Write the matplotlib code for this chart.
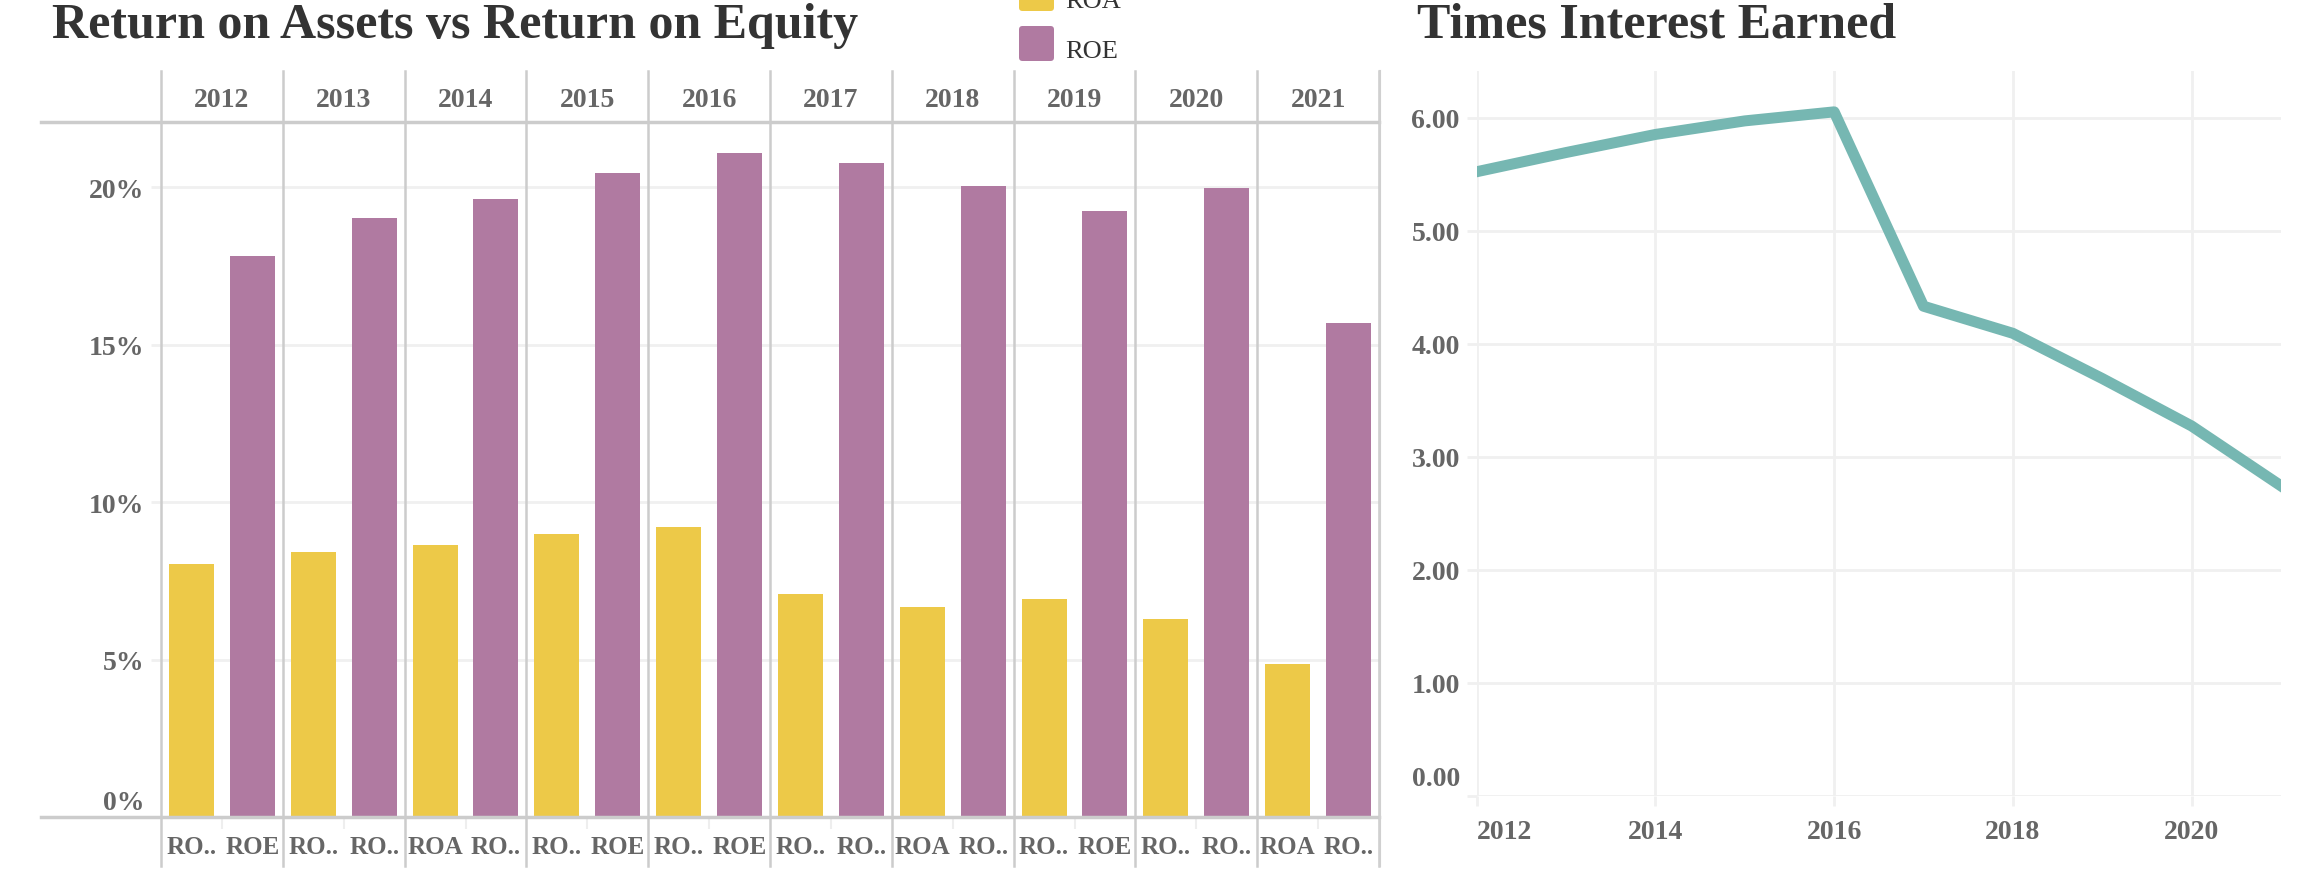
import matplotlib
matplotlib.use('Agg')
import matplotlib.pyplot as plt
from matplotlib.patches import FancyBboxPatch
from matplotlib.lines import Line2D
from matplotlib.transforms import ScaledTranslation, blended_transform_factory

# data
years = [2012, 2013, 2014, 2015, 2016, 2017, 2018, 2019, 2020, 2021]
roa = [8.03, 8.42, 8.66, 8.98, 9.21, 7.08, 6.68, 6.93, 6.29, 4.86]
roe = [17.82, 19.01, 19.64, 20.45, 21.09, 20.77, 20.05, 19.26, 19.97, 15.68]
roa_labels = ["RO..", "RO..", "ROA", "RO..", "RO..", "RO..", "ROA", "RO..", "RO..", "ROA"]
roe_labels = ["ROE", "RO..", "RO..", "ROE", "ROE", "RO..", "RO..", "ROE", "RO..", "RO.."]
tie = [5.52, 5.69, 5.85, 5.97, 6.05, 4.33, 4.09, 3.69, 3.27, 2.74]
pct_ticks = [0, 5, 10, 15, 20]
tie_ticks = [0, 1, 2, 3, 4, 5, 6]
year_ticks = [2012, 2014, 2016, 2018, 2020]
legend_names = ['ROA', 'ROE']

W, H = 2322, 895
YEL, PUR, TEAL = '#EDC948', '#B07AA1', '#76B7B2'
LINE, GRID, TXT = '#cccccc', '#f0f0f0', '#666666'
plt.rcParams['font.family'] = 'Liberation Serif'

fig = plt.figure(figsize=(W / 100, H / 100), dpi=100)

def px(v):  # pixels -> points
    return v * 0.72

# ---------------- left: ROA vs ROE ----------------
top, bot = 123, 818.3
ax1 = fig.add_axes([161 / W, 1 - bot / H, 1218 / W, (bot - top) / H])
n = len(years)
xa = [i + 0.25 for i in range(n)]
xe = [i + 0.75 for i in range(n)]
ax1.bar(xa, roa, width=0.37, color=YEL, zorder=3)
ax1.bar(xe, roe, width=0.37, color=PUR, zorder=3)
ax1.set_xlim(0, n)
ax1.set_ylim(0, (bot - top) / 31.5)
for s in ax1.spines.values():
    s.set_visible(False)

ax1.set_yticks(pct_ticks, [f'{t}%' for t in pct_ticks])
ax1.yaxis.grid(True, color=GRID, lw=2, zorder=0)
ax1.tick_params(axis='y', length=px(10), width=2, color=GRID, pad=5,
                labelsize=20, labelcolor=TXT)
for lab in ax1.get_yticklabels():
    lab.set_fontweight('bold')
ylabs = ax1.get_yticklabels()
ylabs[0].set_transform(ylabs[0].get_transform() + ScaledTranslation(0, 18 / 100, fig.dpi_scale_trans))

ax1.set_xticks(xa + xe, roa_labels + roe_labels)
ax1.tick_params(axis='x', length=0, pad=12.5, labelsize=18, labelcolor=TXT)
for lab in ax1.get_xticklabels():
    lab.set_fontweight('bold')
ax1.set_xticks([i + 0.5 for i in range(n)], minor=True)
ax1.tick_params(axis='x', which='minor', length=px(12), width=1.5, color='#eeeeee')

h = bot - top
for i in range(n + 1):
    ax1.axvline(i, ymin=-(867 - bot) / h, ymax=(bot - 72) / h, color=LINE, lw=1.8,
                clip_on=False, zorder=4)
ax1.plot([-(161 - 41) / 1218, 1], [0, 0], transform=ax1.transAxes, color=LINE, lw=2.5,
         clip_on=False, zorder=4)
ax1.plot([-(161 - 41) / 1218, 1], [1, 1], transform=ax1.transAxes, color=LINE, lw=2.5,
         clip_on=False, zorder=4)
tr = blended_transform_factory(ax1.transData, ax1.transAxes)
for i, y in enumerate(years):
    ax1.text(i + 0.5, (bot - 107) / h, str(y), transform=tr, ha='center', va='baseline',
             fontsize=20, fontweight='bold', color=TXT)

fig.text(52 / W, 1 - 38 / H, 'Return on Assets vs Return on Equity', fontsize=36,
         fontweight='bold', color='#333333', va='baseline')

# legend (top entry runs off the top edge, as in the original)
inch = fig.dpi_scale_trans
for k, (name, col) in enumerate(zip(legend_names, [YEL, PUR])):
    sq_top = 27 - 50 * (1 - k)
    fig.add_artist(FancyBboxPatch((1019 / 100, (H - sq_top - 35) / 100), 0.35, 0.35,
                                  boxstyle='round,pad=0,rounding_size=0.035',
                                  facecolor=col, edgecolor='none', transform=inch))
    fig.text(1065 / W, 1 - (sq_top + 31) / H, name, fontsize=19, color='#333333',
             va='baseline')

# ---------------- right: Times Interest Earned ----------------
t2, b2 = 72, 796.5
ax2 = fig.add_axes([1476.7 / W, 1 - b2 / H, (2281 - 1476.7) / W, (b2 - t2) / H])
ax2.plot(years, tie, color=TEAL, lw=px(11), solid_joinstyle='round', zorder=3)
ax2.set_xlim(2012, 2021)
ax2.set_ylim(0, (b2 - t2) / 113)
for s in ax2.spines.values():
    s.set_visible(False)
ax2.set_yticks(tie_ticks, [f'{t:.2f}' for t in tie_ticks])
ax2.set_xticks(year_ticks, [str(t) for t in year_ticks])
ax2.grid(True, color=GRID, lw=2, zorder=0)
ax2.tick_params(length=px(10), width=2, color=GRID, labelsize=20, labelcolor=TXT)
ax2.tick_params(axis='y', pad=5)
ax2.tick_params(axis='x', pad=10)
for lab in ax2.get_xticklabels() + ax2.get_yticklabels():
    lab.set_fontweight('bold')
ax2.get_xticklabels()[0].set_horizontalalignment('left')
zl = ax2.get_yticklabels()[0]
zl.set_transform(zl.get_transform() + ScaledTranslation(0, 20 / 100, fig.dpi_scale_trans))

fig.add_artist(Line2D([1380 / W, 1380 / W], [1 - 72 / H, 1 - 867 / H], color='#d0d0d0', lw=1.5))
fig.text(1417 / W, 1 - 38 / H, 'Times Interest Earned', fontsize=36,
         fontweight='bold', color='#333333', va='baseline')

fig.savefig('out.png', dpi=100)
